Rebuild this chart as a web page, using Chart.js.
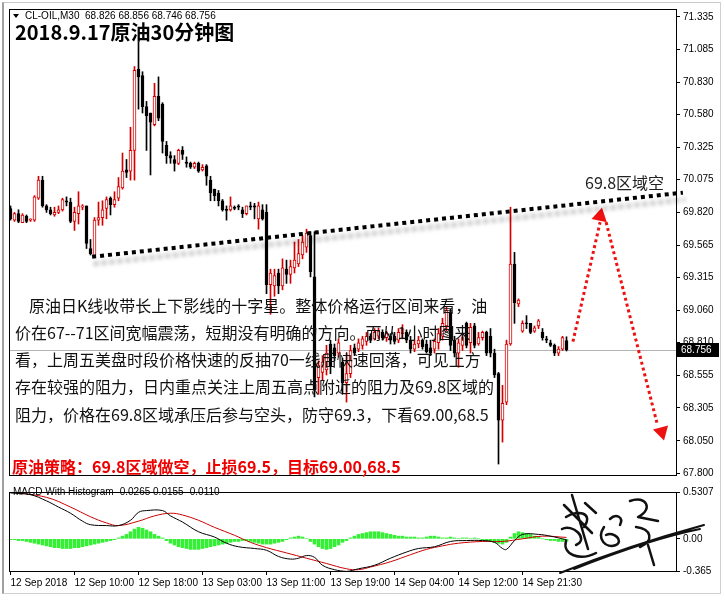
<!DOCTYPE html>
<html>
<head>
<meta charset="utf-8">
<script src="https://cdn.jsdelivr.net/npm/chart.js@4.4.1/dist/chart.umd.min.js"></script>
<style>
  html, body { margin: 0; padding: 0; background: #fff; }
  #wrap { position: relative; width: 725px; height: 600px; overflow: hidden; background: #fff; }
  #frame { position: absolute; left: 2px; top: 2px; width: 716px; height: 590px; border-left: 2px solid #a0a0a0; border-top: 1px solid #c8c8c8; border-right: 1px solid #d0d0d0; border-bottom: 1px solid #d0d0d0; }
  #mainChart { position: absolute; left: 0; top: 0; }
  #macdChart { position: absolute; left: 0; top: 483px; }
</style>
</head>
<body>
<div id="wrap">
  <div id="frame"></div>
  <canvas id="mainChart" width="725" height="484"></canvas>
  <canvas id="macdChart" width="725" height="117"></canvas>
</div>
<script>
// CL-OIL M30 candles (12 Sep 02:00 -> 14 Sep close)
const opens = [
  69.85, 69.76, 69.81, 69.74, 69.79, 69.76, 69.76, 69.93, 70.07, 69.87,
  69.84, 69.80, 69.82, 69.84, 69.91, 69.90, 69.75, 69.81, 69.86, 69.87,
  69.54, 69.48, 69.76, 69.78, 69.85, 69.93, 69.88, 69.93, 70.01, 70.15,
  70.14, 70.30, 70.93, 70.88, 70.64, 70.59, 70.50, 70.72, 70.66, 70.34,
  70.26, 70.23, 70.20, 70.30, 70.21, 70.20, 70.17, 70.20, 70.15, 70.18,
  70.07, 70.00, 69.97, 69.91, 69.84, 69.84, 69.86, 69.87, 69.84, 69.81,
  69.87, 69.87, 69.77, 69.84, 69.82, 69.26, 69.25, 69.35, 69.25, 69.38,
  69.34, 69.39, 69.42, 69.49, 69.55, 69.64, 69.32, 68.54, 68.58, 68.60,
  68.80, 68.77, 68.73, 68.66, 68.50, 68.57, 68.77, 68.76, 68.79, 68.82,
  68.86, 68.84, 68.86, 68.89, 68.85, 68.86, 68.86, 68.83, 68.88, 68.89,
  68.83, 68.76, 68.80, 68.83, 68.80, 68.77, 68.76, 68.81, 68.86, 68.94,
  69.05, 68.83, 68.73, 68.79, 68.96, 68.81, 68.94, 68.80, 68.85, 68.89,
  68.86, 68.73, 68.57, 68.21, 68.35, 68.80, 69.42, 69.11, 68.90, 68.965,
  68.96, 68.90, 68.94, 68.89, 68.84, 68.81, 68.79, 68.73, 68.76, 68.826
];
const highs = [
  69.87, 69.82, 69.84, 69.81, 69.80, 69.77, 69.95, 70.10, 70.10, 69.88,
  69.86, 69.86, 69.87, 69.93, 69.94, 69.93, 69.86, 69.98, 69.88, 69.87,
  69.61, 69.78, 69.90, 69.91, 69.94, 69.94, 69.98, 70.09, 70.28, 70.23,
  70.48, 70.95, 71.14, 70.91, 70.68, 70.59, 70.82, 70.87, 70.67, 70.37,
  70.29, 70.26, 70.31, 70.33, 70.25, 70.21, 70.21, 70.21, 70.19, 70.19,
  70.10, 70.00, 69.99, 69.92, 69.87, 69.94, 69.87, 69.88, 69.86, 69.87,
  69.90, 69.89, 69.90, 69.88, 69.88, 69.38, 69.38, 69.38, 69.46, 69.45,
  69.45, 69.59, 69.61, 69.64, 69.69, 69.67, 69.67, 68.67, 68.71, 68.79,
  68.83, 68.80, 68.84, 68.69, 68.73, 68.79, 68.80, 68.84, 68.86, 68.89,
  68.88, 68.92, 68.925, 68.91, 68.90, 68.88, 68.89, 68.92, 68.95, 68.91,
  68.86, 68.83, 68.86, 68.84, 68.83, 68.83, 68.84, 68.92, 69.00, 69.09,
  69.07, 68.86, 68.84, 68.88, 68.97, 68.96, 68.96, 68.89, 68.90, 68.90,
  68.92, 68.76, 68.58, 68.48, 68.83, 69.86, 69.51, 69.15, 68.98, 69.02,
  68.96, 68.94, 68.99, 68.92, 68.86, 68.83, 68.80, 68.78, 68.86, 68.856
];
const lows = [
  69.76, 69.75, 69.74, 69.74, 69.74, 69.75, 69.75, 69.92, 69.86, 69.82,
  69.80, 69.79, 69.81, 69.83, 69.87, 69.74, 69.68, 69.73, 69.84, 69.54,
  69.49, 69.48, 69.72, 69.72, 69.77, 69.80, 69.86, 69.91, 70.00, 70.09,
  70.07, 70.07, 70.62, 70.59, 70.30, 70.11, 70.49, 70.53, 70.28, 70.20,
  70.20, 70.14, 70.19, 70.23, 70.17, 70.16, 70.16, 70.13, 70.14, 70.03,
  69.91, 69.91, 69.87, 69.83, 69.76, 69.83, 69.84, 69.84, 69.78, 69.80,
  69.84, 69.77, 69.69, 69.76, 69.19, 69.03, 69.17, 69.19, 69.22, 69.27,
  69.27, 69.35, 69.40, 69.46, 69.51, 69.32, 68.39, 68.41, 68.52, 68.56,
  68.57, 68.67, 68.70, 68.41, 68.35, 68.54, 68.71, 68.74, 68.76, 68.79,
  68.81, 68.83, 68.84, 68.83, 68.82, 68.80, 68.80, 68.81, 68.84, 68.81,
  68.73, 68.74, 68.77, 68.76, 68.73, 68.71, 68.73, 68.76, 68.83, 68.90,
  68.75, 68.70, 68.62, 68.75, 68.77, 68.73, 68.77, 68.79, 68.83, 68.71,
  68.70, 68.54, 67.87, 68.04, 68.33, 68.79, 68.96, 69.09, 68.89, 68.92,
  68.88, 68.89, 68.92, 68.83, 68.81, 68.78, 68.71, 68.71, 68.75, 68.746
];
const closes = [
  69.77, 69.81, 69.75, 69.80, 69.75, 69.77, 69.94, 70.07, 69.87, 69.84,
  69.81, 69.82, 69.84, 69.92, 69.90, 69.75, 69.82, 69.87, 69.87, 69.58,
  69.50, 69.76, 69.78, 69.84, 69.92, 69.88, 69.92, 70.02, 70.14, 70.13,
  70.30, 70.92, 70.87, 70.64, 70.57, 70.52, 70.72, 70.55, 70.37, 70.26,
  70.24, 70.20, 70.30, 70.27, 70.20, 70.17, 70.20, 70.14, 70.17, 70.10,
  69.97, 69.95, 69.91, 69.84, 69.835, 69.87, 69.85, 69.86, 69.81, 69.87,
  69.86, 69.86, 69.87, 69.77, 69.26, 69.35, 69.33, 69.25, 69.39, 69.34,
  69.40, 69.45, 69.50, 69.59, 69.66, 69.36, 68.44, 68.63, 68.66, 68.73,
  68.63, 68.71, 68.81, 68.50, 68.57, 68.75, 68.73, 68.81, 68.84, 68.86,
  68.83, 68.89, 68.90, 68.85, 68.88, 68.83, 68.82, 68.89, 68.92, 68.83,
  68.76, 68.80, 68.83, 68.78, 68.74, 68.73, 68.82, 68.88, 68.96, 69.06,
  68.79, 68.73, 68.81, 68.85, 68.79, 68.93, 68.79, 68.85, 68.89, 68.73,
  68.73, 68.56, 68.21, 68.34, 68.80, 69.42, 69.12, 69.14, 68.96, 68.956,
  68.89, 68.925, 68.98, 68.85, 68.83, 68.79, 68.73, 68.76, 68.85, 68.756
];

// Axis labels
const priceTicks = [71.335, 71.085, 70.830, 70.580, 70.325, 70.075, 69.820, 69.565, 69.315, 69.060, 68.810, 68.555, 68.305, 68.050, 67.800];
const macdTicks = [0.5307, 0, -0.365];
const macdTickLabels = ['0.5307', '0.00', '-0.365'];
const timeTickIdx = [0, 16, 32, 48, 64, 80, 96, 112, 128];
const timeLabels = ['12 Sep 2018', '12 Sep 10:00', '12 Sep 18:00', '13 Sep 03:00', '13 Sep 11:00', '13 Sep 19:00', '14 Sep 04:00', '14 Sep 12:00', '14 Sep 21:30'];

// MACD window (histogram per bar, lines read at sample bars)
const macdHist = [
  -0.01, -0.01, -0.02, -0.02,
  -0.03, -0.04, -0.05, -0.06, -0.07,
  -0.08, -0.09, -0.10, -0.10, -0.11, -0.11, -0.11, -0.10, -0.10, -0.09, -0.08, -0.07,
  -0.06, -0.05, -0.04, -0.03, -0.02, -0.01,
  0.01, 0.03, 0.05, 0.08, 0.11,
  0.13, 0.12, 0.10, 0.08,
  0.05, 0.03, 0.01,
  -0.02, -0.05, -0.07, -0.09, -0.10, -0.11, -0.12, -0.12, -0.12, -0.11, -0.10, -0.09,
  -0.08, -0.07, -0.06, -0.05, -0.04,
  -0.03, -0.03, -0.02, -0.02, -0.03,
  -0.04, -0.05, -0.06, -0.06, -0.06, -0.05, -0.04, -0.03,
  -0.01, 0.01, 0.02, 0.03, 0.02,
  0.00, -0.03, -0.06,
  -0.09, -0.11, -0.12, -0.11, -0.09, -0.07, -0.04,
  -0.02, 0.01, 0.03, 0.05,
  0.06, 0.07, 0.08, 0.08, 0.08, 0.07, 0.06, 0.05,
  0.04, 0.03, 0.03, 0.02, 0.02, 0.02, 0.01, 0.01,
  0.02, 0.03, 0.03, 0.02, 0.01, 0.01, 0.02,
  0.01, 0.00, 0.01, 0.01, 0.00, 0.01, 0.00, -0.01,
  -0.02, -0.03, -0.04, -0.05, -0.06, -0.04,
  0.02, 0.06, 0.08, 0.07, 0.06, 0.05,
  0.03, 0.02, 0.00, -0.01, -0.02,
  -0.02, -0.03, -0.03, -0.0265
];
const macdLineIdx = [0, 5, 9, 12, 15, 18, 20, 24, 27, 30, 32, 34, 38, 40, 43, 47, 51, 54, 57, 61, 64, 67, 70, 72, 74, 76, 78, 81, 84, 87, 91, 95, 99, 102, 106, 110, 114, 118, 121, 123, 124, 126, 128, 132, 135, 139];
const macdLineVal = [0.52, 0.50, 0.43, 0.36, 0.29, 0.20, 0.16, 0.15, 0.15, 0.21, 0.30, 0.32, 0.32, 0.26, 0.19, 0.08, 0.02, -0.05, -0.09, -0.11, -0.13, -0.20, -0.23, -0.22, -0.19, -0.21, -0.30, -0.35, -0.37, -0.34, -0.30, -0.22, -0.15, -0.11, -0.09, -0.03, -0.02, -0.02, -0.04, -0.11, -0.12, -0.02, 0.05, 0.05, 0.03, -0.011];
const signalIdx = [0, 9, 15, 20, 24, 27, 32, 36, 40, 43, 47, 51, 56, 60, 64, 69, 74, 79, 84, 87, 90, 95, 100, 104, 108, 112, 118, 123, 128, 133, 139];
const signalVal = [0.53, 0.47, 0.36, 0.25, 0.18, 0.15, 0.20, 0.26, 0.29, 0.27, 0.21, 0.13, 0.04, -0.04, -0.10, -0.16, -0.22, -0.28, -0.34, -0.35, -0.32, -0.26, -0.18, -0.12, -0.08, -0.05, -0.03, -0.03, 0.00, 0.03, 0.0155];

// Drawn analysis: resistance line and expected path
const trendX = [20.4, 168.1];
const trendY = [69.476, 69.973];
const upArrowX = [140.6, 147.4];
const upArrowY = [68.818, 69.744];
const downArrowX = [148.9, 161.6];
const downArrowY = [69.744, 68.19];
const arrowHeadX = [147.4, 162.8];
const arrowHeadY = [69.79, 68.119];
const arrowHeadAngle = [12, 165];

const upColor = '#d40000';
const idx = opens.map((v, i) => i);
const isUp = idx.map(i => closes[i] >= opens[i]);
const fontUi = 'Liberation Sans, Arial, sans-serif';
const fontCn = '"Noto Sans CJK SC", "Noto Sans", sans-serif';

// x runs in bar units, 4px per bar
const xMin = -0.375;
const xMax = 166.375;

// Frame around chart area + current price line
const boxPlugin = {
  id: 'box',
  beforeDatasetsDraw(chart) {
    if (chart.canvas.id !== 'mainChart') return;
    const ctx = chart.ctx, a = chart.chartArea;
    const y = Math.round(chart.scales.y.getPixelForValue(closes[closes.length - 1])) + 0.5;
    ctx.save();
    ctx.strokeStyle = '#b4b4b4';
    ctx.lineWidth = 1;
    ctx.beginPath();
    ctx.moveTo(a.left, y);
    ctx.lineTo(a.right, y);
    ctx.stroke();
    ctx.restore();
  },
  afterDraw(chart) {
    const ctx = chart.ctx, a = chart.chartArea;
    ctx.save();
    ctx.strokeStyle = '#000';
    ctx.lineWidth = 1;
    ctx.strokeRect(a.left + 0.5, a.top + 0.5, a.right - a.left, a.bottom - a.top);
    ctx.restore();
  }
};

// Shadow under the dotted resistance line
const shadowPlugin = {
  id: 'shadow',
  beforeDatasetDraw(chart, args) {
    if (args.meta.label !== 'trend') return;
    const ctx = chart.ctx;
    ctx.save();
    ctx.shadowColor = 'rgba(0,0,0,0.35)';
    ctx.shadowBlur = 4;
    ctx.shadowOffsetX = 2;
    ctx.shadowOffsetY = 7;
  },
  afterDatasetDraw(chart, args) {
    if (args.meta.label !== 'trend') return;
    chart.ctx.restore();
  }
};

const mainTextPlugin = {
  id: 'mainText',
  afterDraw(chart) {
    const ctx = chart.ctx;
    const last = closes[closes.length - 1];
    ctx.save();
    ctx.textBaseline = 'middle';

    // header line
    ctx.fillStyle = '#000';
    ctx.beginPath();
    ctx.moveTo(13, 14); ctx.lineTo(19, 14); ctx.lineTo(16, 18); ctx.closePath();
    ctx.fill();
    ctx.font = '10px ' + fontUi;
    ctx.fillText('CL-OIL,M30  68.826 68.856 68.746 68.756', 25, 16);

    // title
    ctx.font = 'bold 20px ' + fontCn;
    ctx.fillText('2018.9.17原油30分钟图', 15, 32);

    // zone label
    ctx.font = '16px ' + fontCn;
    ctx.fillStyle = '#222';
    ctx.fillText('69.8区域空', 585, 183);

    // comment paragraph
    ctx.fillStyle = '#111';
    ctx.font = '16px ' + fontCn;
    ctx.fillText('原油日K线收带长上下影线的十字星。整体价格运行区间来看，油', 29, 306);
    ctx.fillText('价在67--71区间宽幅震荡，短期没有明确的方向。而从1小时图来', 15, 333);
    ctx.fillText('看，上周五美盘时段价格快速的反抽70一线后快速回落，可见上方', 15, 360);
    ctx.fillText('存在较强的阻力，日内重点关注上周五高点附近的阻力及69.8区域的', 15, 387);
    ctx.fillText('阻力，价格在69.8区域承压后参与空头，防守69.3，下看69.00,68.5', 15, 415);

    // strategy line
    ctx.fillStyle = '#ee0000';
    ctx.font = 'bold 16px ' + fontCn;
    ctx.fillText('原油策略：69.8区域做空，止损69.5，目标69.00,68.5', 12, 467);

    // last price box
    const y = Math.round(chart.scales.y.getPixelForValue(last));
    ctx.fillStyle = '#000';
    ctx.fillRect(677, y - 7, 42, 14);
    ctx.fillStyle = '#fff';
    ctx.font = '10px ' + fontUi;
    ctx.fillText(last.toFixed(3), 681, y);
    ctx.restore();
  }
};

const macdTextPlugin = {
  id: 'macdText',
  afterDraw(chart) {
    const ctx = chart.ctx;
    ctx.save();
    ctx.fillStyle = '#000';
    ctx.textBaseline = 'middle';
    ctx.font = '10px ' + fontUi;
    ctx.fillText('MACD With Histogram -0.0265 0.0155 -0.0110', 13, 9);

    // signature scribble (y relative to this canvas)
    ctx.strokeStyle = '#111';
    ctx.lineCap = 'round';
    ctx.lineJoin = 'round';
    ctx.lineWidth = 2.5;
    ctx.beginPath();
    // left glyph
    ctx.moveTo(572, 12); ctx.lineTo(588, 66);
    ctx.moveTo(564, 22); ctx.lineTo(592, 50);
    ctx.moveTo(566, 34); ctx.bezierCurveTo(578, 26, 594, 30, 584, 44);
    ctx.moveTo(562, 46); ctx.bezierCurveTo(572, 40, 590, 56, 576, 62);
    ctx.moveTo(566, 58); ctx.bezierCurveTo(562, 72, 580, 78, 596, 70);
    ctx.moveTo(585, 20); ctx.lineTo(596, 30);
    // middle loops
    ctx.moveTo(604, 44); ctx.bezierCurveTo(596, 56, 606, 66, 616, 62);
    ctx.bezierCurveTo(624, 58, 614, 48, 606, 52);
    ctx.moveTo(610, 36); ctx.bezierCurveTo(616, 30, 624, 34, 620, 42);
    // right glyph
    ctx.moveTo(630, 18); ctx.bezierCurveTo(646, 12, 654, 26, 638, 34);
    ctx.lineTo(658, 38);
    ctx.moveTo(636, 44); ctx.bezierCurveTo(652, 46, 654, 58, 640, 64);
    ctx.moveTo(648, 62); ctx.lineTo(654, 82);
    ctx.stroke();
    // long sweep
    ctx.lineWidth = 2;
    ctx.beginPath();
    ctx.moveTo(560, 90); ctx.quadraticCurveTo(630, 62, 704, 42);
    ctx.moveTo(574, 86); ctx.quadraticCurveTo(650, 56, 700, 46);
    ctx.stroke();
    ctx.restore();
  }
};

// Main price window
new Chart(document.getElementById('mainChart'), {
  type: 'bar',
  data: {
    datasets: [
      {
        label: 'trend',
        type: 'line',
        data: trendX.map((x, i) => ({ x: x, y: trendY[i] })),
        borderColor: '#000',
        borderWidth: 4,
        borderDash: [4, 4],
        borderCapStyle: 'butt',
        pointRadius: 0,
        clip: false,
        order: 0
      },
      {
        label: 'up path',
        type: 'line',
        data: upArrowX.map((x, i) => ({ x: x, y: upArrowY[i] })),
        borderColor: '#ee1111',
        borderWidth: 3,
        borderDash: [3, 3],
        borderCapStyle: 'butt',
        pointRadius: 0,
        order: 0
      },
      {
        label: 'down path',
        type: 'line',
        data: downArrowX.map((x, i) => ({ x: x, y: downArrowY[i] })),
        borderColor: '#ee1111',
        borderWidth: 3,
        borderDash: [3, 3],
        borderCapStyle: 'butt',
        pointRadius: 0,
        order: 0
      },
      {
        label: 'arrow heads',
        type: 'scatter',
        data: arrowHeadX.map((x, i) => ({ x: x, y: arrowHeadY[i] })),
        pointStyle: 'triangle',
        rotation: arrowHeadAngle,
        radius: 9,
        backgroundColor: '#ee1111',
        borderWidth: 0,
        order: 0
      },
      {
        label: 'body',
        data: idx.map(i => ({ x: i, y: [opens[i], closes[i]] })),
        backgroundColor: idx.map(i => isUp[i] ? '#ffffff' : '#000000'),
        borderColor: idx.map(i => isUp[i] ? upColor : '#000000'),
        borderWidth: 1,
        borderSkipped: false,
        barThickness: 3,
        minBarLength: 1,
        grouped: false,
        order: 1
      },
      {
        label: 'wick',
        data: idx.map(i => ({ x: i, y: [lows[i], highs[i]] })),
        backgroundColor: idx.map(i => isUp[i] ? upColor : '#000000'),
        borderWidth: 0,
        barThickness: 1,
        grouped: false,
        order: 2
      }
    ]
  },
  options: {
    responsive: false,
    devicePixelRatio: 1,
    animation: false,
    layout: { padding: { left: 9, top: 9, right: 0, bottom: 3 } },
    plugins: { legend: { display: false }, tooltip: { enabled: false } },
    scales: {
      x: {
        type: 'linear',
        min: xMin,
        max: xMax,
        offset: false,
        display: false
      },
      y: {
        position: 'right',
        min: 67.785,
        max: 71.396,
        afterBuildTicks: scale => { scale.ticks = priceTicks.map(v => ({ value: v })); },
        afterFit: scale => { scale.width = 49; },
        ticks: {
          color: '#000',
          font: { size: 10, family: fontUi },
          padding: 3,
          callback: v => v.toFixed(3)
        },
        grid: { drawOnChartArea: false, drawTicks: true, tickLength: 4, color: '#000' },
        border: { display: false }
      }
    }
  },
  plugins: [boxPlugin, shadowPlugin, mainTextPlugin]
});

// MACD window with time axis
new Chart(document.getElementById('macdChart'), {
  type: 'bar',
  data: {
    datasets: [
      {
        label: 'MACD',
        type: 'line',
        data: macdLineIdx.map((x, i) => ({ x: x, y: macdLineVal[i] })),
        borderColor: '#000',
        borderWidth: 1,
        pointRadius: 0,
        tension: 0.4,
        order: 0
      },
      {
        label: 'Signal',
        type: 'line',
        data: signalIdx.map((x, i) => ({ x: x, y: signalVal[i] })),
        borderColor: '#cc0000',
        borderWidth: 1,
        pointRadius: 0,
        tension: 0.4,
        order: 0
      },
      {
        label: 'Histogram',
        data: idx.map(i => ({ x: i, y: macdHist[i] })),
        backgroundColor: '#35ee35',
        barThickness: 3,
        order: 1
      }
    ]
  },
  options: {
    responsive: false,
    devicePixelRatio: 1,
    animation: false,
    layout: { padding: { left: 9, top: 1, right: 0, bottom: 0 } },
    plugins: { legend: { display: false }, tooltip: { enabled: false } },
    scales: {
      x: {
        type: 'linear',
        min: xMin,
        max: xMax,
        offset: false,
        afterBuildTicks: scale => { scale.ticks = timeTickIdx.map(v => ({ value: v })); },
        afterFit: scale => { scale.height = 29; },
        ticks: {
          align: 'start',
          autoSkip: false,
          maxRotation: 0,
          color: '#000',
          padding: 2,
          font: { size: 10, family: fontUi },
          callback: v => timeLabels[timeTickIdx.indexOf(v)]
        },
        grid: { drawOnChartArea: false, drawTicks: true, tickLength: 4, color: '#000', offset: false },
        border: { display: false }
      },
      y: {
        position: 'right',
        min: -0.365,
        max: 0.5307,
        afterBuildTicks: scale => { scale.ticks = macdTicks.map(v => ({ value: v })); },
        afterFit: scale => { scale.width = 49; },
        ticks: {
          color: '#000',
          padding: 3,
          font: { size: 10, family: fontUi },
          callback: v => macdTickLabels[macdTicks.indexOf(v)]
        },
        grid: { drawOnChartArea: false, drawTicks: true, tickLength: 4, color: '#000' },
        border: { display: false }
      }
    }
  },
  plugins: [boxPlugin, macdTextPlugin]
});
</script>
</body>
</html>
